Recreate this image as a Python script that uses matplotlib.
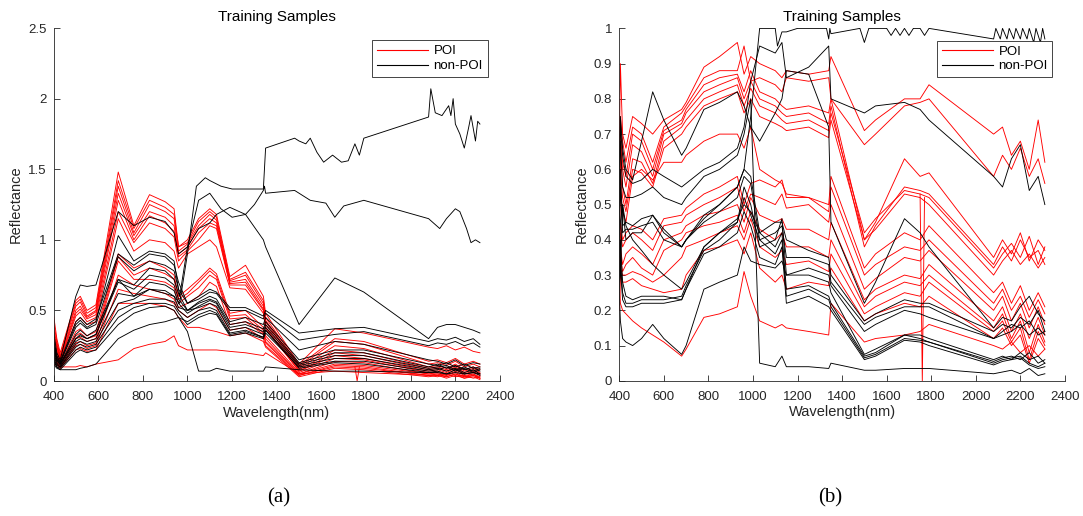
import matplotlib
matplotlib.use('Agg')
from matplotlib import pyplot as plt
from matplotlib.lines import Line2D
from matplotlib.ticker import FormatStrFormatter, MultipleLocator

plt.rcParams['font.family'] = ['Liberation Sans', 'DejaVu Sans']

# ---------------- panel (a) data ----------------
wl_a = [400, 415, 430, 500, 520, 550, 590, 690, 760, 830, 900, 940, 960, 1000, 1050, 1100, 1130,
        1190, 1260, 1340, 1350, 1500, 1660, 1790, 2080, 2120, 2160, 2200, 2240, 2280, 2310]

poi_a = [
    [0.47, 0.30, 0.20, 0.57, 0.60, 0.50, 0.54, 1.48, 1.10, 1.32, 1.27, 1.22, 0.95, 1.00, 1.15, 1.22, 1.18, 0.74, 0.82, 0.60, 0.48, 0.12, 0.37, 0.34, 0.24, 0.23, 0.25, 0.22, 0.24, 0.21, 0.20],
    [0.42, 0.28, 0.18, 0.55, 0.58, 0.48, 0.52, 1.42, 1.08, 1.28, 1.23, 1.18, 0.95, 0.98, 1.13, 1.20, 1.16, 0.72, 0.77, 0.57, 0.45, 0.11, 0.30, 0.28, 0.14, 0.15, 0.13, 0.16, 0.12, 0.14, 0.12],
    [0.38, 0.26, 0.17, 0.53, 0.56, 0.46, 0.50, 1.38, 1.05, 1.25, 1.20, 1.15, 0.92, 0.97, 1.10, 1.18, 1.14, 0.71, 0.75, 0.55, 0.43, 0.10, 0.28, 0.26, 0.12, 0.13, 0.11, 0.14, 0.10, 0.12, 0.10],
    [0.35, 0.25, 0.16, 0.50, 0.53, 0.45, 0.49, 1.33, 1.03, 1.20, 1.16, 1.10, 0.90, 0.95, 1.08, 1.15, 1.12, 0.70, 0.72, 0.53, 0.42, 0.09, 0.25, 0.23, 0.10, 0.11, 0.09, 0.12, 0.08, 0.10, 0.08],
    [0.32, 0.24, 0.15, 0.48, 0.51, 0.44, 0.47, 1.28, 1.00, 1.17, 1.12, 1.06, 0.88, 0.93, 1.05, 1.12, 1.10, 0.69, 0.70, 0.51, 0.40, 0.08, 0.22, 0.20, 0.09, 0.10, 0.08, 0.11, 0.07, 0.09, 0.06],
    [0.30, 0.22, 0.14, 0.46, 0.49, 0.42, 0.45, 1.20, 0.98, 1.12, 1.08, 1.02, 0.85, 0.92, 1.00, 1.10, 1.08, 0.68, 0.68, 0.50, 0.38, 0.07, 0.20, 0.18, 0.08, 0.09, 0.07, 0.10, 0.06, 0.08, 0.05],
    [0.28, 0.20, 0.13, 0.42, 0.45, 0.40, 0.42, 1.15, 0.92, 1.00, 0.98, 0.92, 0.80, 0.90, 0.95, 1.00, 0.95, 0.66, 0.65, 0.48, 0.37, 0.07, 0.18, 0.16, 0.07, 0.08, 0.06, 0.09, 0.05, 0.07, 0.04],
    [0.25, 0.18, 0.12, 0.35, 0.37, 0.32, 0.35, 0.90, 0.80, 0.85, 0.80, 0.75, 0.60, 0.65, 0.72, 0.80, 0.76, 0.48, 0.50, 0.38, 0.32, 0.06, 0.16, 0.15, 0.06, 0.07, 0.05, 0.08, 0.05, 0.06, 0.05],
    [0.22, 0.17, 0.11, 0.32, 0.34, 0.30, 0.32, 0.88, 0.75, 0.80, 0.76, 0.72, 0.58, 0.62, 0.70, 0.78, 0.74, 0.46, 0.47, 0.36, 0.30, 0.05, 0.14, 0.13, 0.05, 0.06, 0.04, 0.07, 0.04, 0.05, 0.03],
    [0.20, 0.16, 0.10, 0.30, 0.31, 0.28, 0.30, 0.85, 0.72, 0.72, 0.70, 0.66, 0.55, 0.60, 0.66, 0.75, 0.72, 0.44, 0.45, 0.34, 0.28, 0.05, 0.12, 0.11, 0.05, 0.05, 0.04, 0.06, 0.03, 0.05, 0.02],
    [0.18, 0.14, 0.10, 0.27, 0.28, 0.25, 0.27, 0.75, 0.68, 0.65, 0.62, 0.58, 0.52, 0.55, 0.60, 0.70, 0.67, 0.40, 0.42, 0.33, 0.27, 0.04, 0.11, 0.10, 0.04, 0.05, 0.03, 0.05, 0.03, 0.04, 0.02],
    [0.16, 0.13, 0.09, 0.25, 0.26, 0.23, 0.25, 0.65, 0.62, 0.60, 0.58, 0.55, 0.50, 0.45, 0.50, 0.55, 0.52, 0.36, 0.38, 0.30, 0.25, 0.04, 0.10, 0.09, 0.04, 0.04, 0.03, 0.05, 0.02, 0.04, 0.02],
    [0.14, 0.12, 0.09, 0.22, 0.23, 0.21, 0.22, 0.55, 0.55, 0.55, 0.53, 0.50, 0.45, 0.38, 0.38, 0.36, 0.35, 0.32, 0.34, 0.28, 0.24, 0.03, 0.09, 0.08, 0.03, 0.04, 0.02, 0.04, 0.02, 0.03, 0.01],
    [0.12, 0.11, 0.10, 0.10, 0.11, 0.10, 0.12, 0.15, 0.23, 0.26, 0.28, 0.32, 0.25, 0.22, 0.22, 0.22, 0.22, 0.21, 0.20, 0.18, 0.20, 0.05, 0.07, 0.06, 0.04, 0.03, 0.05, 0.03, 0.04, 0.02, 0.03],
]

non_a = [
    [0.35, 0.20, 0.15, 0.60, 0.68, 0.67, 0.68, 1.20, 1.10, 1.16, 1.13, 1.05, 0.90, 0.95, 1.08, 1.12, 1.18, 1.23, 1.18, 1.00, 0.95, 0.40, 0.73, 0.63, 0.30, 0.38, 0.40, 0.40, 0.38, 0.36, 0.34],
    [0.15, 0.10, 0.08, 0.08, 0.09, 0.10, 0.12, 0.30, 0.36, 0.40, 0.42, 0.44, 0.45, 0.35, 0.07, 0.07, 0.09, 0.07, 0.07, 0.07, 0.10, 0.08, 0.07, 0.07, 0.06, 0.06, 0.05, 0.06, 0.05, 0.06, 0.05],
    [0.28, 0.17, 0.14, 0.42, 0.45, 0.40, 0.44, 0.90, 0.82, 0.90, 0.88, 0.82, 0.70, 0.55, 0.60, 0.65, 0.63, 0.52, 0.52, 0.46, 0.50, 0.34, 0.37, 0.38, 0.28, 0.30, 0.29, 0.31, 0.28, 0.30, 0.26],
    [0.26, 0.16, 0.13, 0.38, 0.41, 0.37, 0.40, 0.88, 0.78, 0.85, 0.82, 0.78, 0.65, 0.55, 0.58, 0.63, 0.62, 0.50, 0.50, 0.44, 0.48, 0.29, 0.33, 0.35, 0.25, 0.27, 0.26, 0.28, 0.25, 0.27, 0.24],
    [0.24, 0.15, 0.12, 0.33, 0.36, 0.32, 0.36, 0.72, 0.68, 0.80, 0.78, 0.72, 0.62, 0.50, 0.56, 0.60, 0.58, 0.42, 0.45, 0.40, 0.45, 0.22, 0.28, 0.26, 0.15, 0.14, 0.12, 0.15, 0.11, 0.13, 0.12],
    [0.22, 0.14, 0.12, 0.30, 0.32, 0.30, 0.33, 0.70, 0.65, 0.75, 0.73, 0.68, 0.58, 0.50, 0.55, 0.58, 0.56, 0.40, 0.42, 0.37, 0.42, 0.15, 0.22, 0.22, 0.12, 0.11, 0.13, 0.10, 0.12, 0.09, 0.10],
    [0.20, 0.13, 0.11, 0.28, 0.30, 0.28, 0.30, 0.62, 0.60, 0.70, 0.68, 0.64, 0.55, 0.48, 0.53, 0.57, 0.55, 0.38, 0.40, 0.35, 0.40, 0.13, 0.20, 0.20, 0.10, 0.12, 0.09, 0.11, 0.08, 0.10, 0.07],
    [0.18, 0.12, 0.10, 0.26, 0.28, 0.26, 0.28, 0.55, 0.58, 0.65, 0.64, 0.60, 0.52, 0.50, 0.52, 0.55, 0.53, 0.36, 0.38, 0.33, 0.38, 0.12, 0.18, 0.18, 0.09, 0.10, 0.11, 0.08, 0.10, 0.07, 0.09],
    [0.16, 0.11, 0.10, 0.24, 0.26, 0.24, 0.26, 0.50, 0.55, 0.58, 0.58, 0.56, 0.50, 0.45, 0.50, 0.52, 0.50, 0.34, 0.36, 0.31, 0.36, 0.11, 0.16, 0.16, 0.08, 0.09, 0.07, 0.09, 0.06, 0.08, 0.05],
    [0.14, 0.10, 0.09, 0.22, 0.24, 0.22, 0.24, 0.45, 0.52, 0.55, 0.55, 0.53, 0.48, 0.40, 0.45, 0.48, 0.47, 0.32, 0.34, 0.30, 0.34, 0.10, 0.14, 0.14, 0.07, 0.08, 0.10, 0.07, 0.09, 0.06, 0.08],
    [0.12, 0.09, 0.08, 0.20, 0.22, 0.20, 0.22, 0.40, 0.48, 0.52, 0.53, 0.50, 0.45, 0.42, 0.47, 0.50, 0.48, 0.33, 0.35, 0.31, 0.36, 0.09, 0.13, 0.12, 0.06, 0.07, 0.05, 0.08, 0.05, 0.06, 0.04],
]

# two bright non-POI spectra of panel (a) with their own sampling
hi1_wl = [400, 415, 430, 500, 520, 550, 590, 690, 760, 830, 900, 940, 965, 1000, 1040, 1080, 1100, 1150,
          1200, 1340, 1350, 1480, 1500, 1530, 1550, 1580, 1610, 1650, 1690, 1720, 1750, 1770, 1790,
          2080, 2090, 2110, 2140, 2170, 2180, 2190, 2200, 2220, 2240, 2260, 2270, 2290, 2300, 2310]
hi1_r = [0.25, 0.15, 0.12, 0.30, 0.33, 0.30, 0.33, 0.72, 0.60, 0.65, 0.62, 0.60, 0.55, 0.90, 1.38, 1.44, 1.42, 1.38,
         1.36, 1.36, 1.65, 1.72, 1.70, 1.68, 1.72, 1.62, 1.55, 1.60, 1.55, 1.56, 1.68, 1.60, 1.72,
         1.87, 2.07, 1.90, 1.88, 1.95, 1.88, 2.00, 1.82, 1.75, 1.65, 1.80, 1.88, 1.70, 1.84, 1.82]
hi2_wl = [400, 415, 430, 500, 520, 550, 590, 690, 760, 830, 900, 940, 965, 1000, 1050, 1100, 1150, 1200,
          1260, 1300, 1340, 1345, 1350, 1480, 1550, 1620, 1660, 1700, 1790, 2080, 2130, 2160, 2200,
          2220, 2250, 2270, 2290, 2310]
hi2_r = [0.30, 0.18, 0.13, 0.40, 0.43, 0.38, 0.42, 1.03, 0.85, 0.92, 0.90, 0.85, 0.60, 0.95, 1.28, 1.33, 1.22, 1.16,
         1.18, 1.25, 1.35, 1.38, 1.33, 1.35, 1.28, 1.26, 1.16, 1.24, 1.28, 1.15, 1.08, 1.15, 1.22,
         1.20, 1.08, 0.98, 1.00, 0.98]

spike_a_wl = [1750, 1760, 1770]
spike_a_r = [0.10, 0.0, 0.10]

# ---------------- panel (b) data ----------------
wl_b = [400, 405, 415, 430, 460, 500, 550, 600, 680, 700, 780, 850, 930, 960, 990, 1030, 1100, 1130,
        1150, 1250, 1340, 1350, 1500, 1550, 1680, 1750, 1790, 2080, 2120, 2160, 2200, 2240, 2280, 2310]

poi_b = [
    [0.62, 0.90, 0.70, 0.66, 0.75, 0.73, 0.70, 0.74, 0.77, 0.79, 0.89, 0.92, 0.96, 0.87, 0.92, 0.90, 0.88, 0.86, 0.88, 0.87, 0.88, 0.92, 0.71, 0.74, 0.80, 0.80, 0.84, 0.70, 0.72, 0.64, 0.68, 0.60, 0.74, 0.62],
    [0.55, 0.75, 0.68, 0.62, 0.72, 0.70, 0.62, 0.72, 0.76, 0.78, 0.86, 0.88, 0.88, 0.95, 0.85, 0.86, 0.84, 0.82, 0.86, 0.85, 0.86, 0.80, 0.67, 0.70, 0.78, 0.79, 0.80, 0.58, 0.64, 0.60, 0.66, 0.58, 0.63, 0.56],
    [0.50, 0.70, 0.62, 0.58, 0.70, 0.68, 0.60, 0.71, 0.74, 0.77, 0.84, 0.86, 0.87, 0.82, 0.88, 0.82, 0.80, 0.78, 0.77, 0.78, 0.76, 0.80, 0.40, 0.45, 0.63, 0.58, 0.59, 0.35, 0.40, 0.36, 0.42, 0.34, 0.40, 0.37],
    [0.45, 0.68, 0.60, 0.55, 0.67, 0.65, 0.58, 0.70, 0.73, 0.76, 0.82, 0.84, 0.86, 0.80, 0.85, 0.80, 0.78, 0.76, 0.75, 0.76, 0.73, 0.78, 0.38, 0.44, 0.55, 0.54, 0.53, 0.33, 0.38, 0.34, 0.40, 0.35, 0.37, 0.33],
    [0.42, 0.65, 0.55, 0.50, 0.63, 0.62, 0.56, 0.68, 0.72, 0.74, 0.80, 0.82, 0.84, 0.78, 0.83, 0.78, 0.76, 0.74, 0.73, 0.74, 0.71, 0.76, 0.42, 0.46, 0.54, 0.53, 0.52, 0.32, 0.36, 0.39, 0.35, 0.41, 0.33, 0.38],
    [0.40, 0.60, 0.52, 0.48, 0.60, 0.59, 0.55, 0.66, 0.70, 0.72, 0.78, 0.80, 0.82, 0.76, 0.80, 0.75, 0.73, 0.72, 0.71, 0.72, 0.69, 0.74, 0.40, 0.43, 0.53, 0.52, 0.50, 0.30, 0.34, 0.37, 0.33, 0.36, 0.32, 0.35],
    [0.35, 0.55, 0.48, 0.45, 0.58, 0.60, 0.57, 0.62, 0.62, 0.64, 0.68, 0.70, 0.70, 0.66, 0.72, 0.60, 0.57, 0.56, 0.53, 0.52, 0.50, 0.58, 0.32, 0.36, 0.42, 0.40, 0.44, 0.25, 0.28, 0.22, 0.27, 0.20, 0.25, 0.21],
    [0.30, 0.45, 0.40, 0.42, 0.44, 0.43, 0.40, 0.46, 0.47, 0.49, 0.53, 0.55, 0.58, 0.50, 0.56, 0.57, 0.55, 0.57, 0.52, 0.52, 0.48, 0.55, 0.30, 0.33, 0.38, 0.37, 0.40, 0.22, 0.26, 0.20, 0.24, 0.18, 0.23, 0.19],
    [0.28, 0.42, 0.38, 0.40, 0.42, 0.40, 0.37, 0.44, 0.45, 0.47, 0.50, 0.52, 0.55, 0.48, 0.53, 0.52, 0.50, 0.53, 0.49, 0.50, 0.45, 0.50, 0.26, 0.29, 0.35, 0.34, 0.37, 0.20, 0.24, 0.17, 0.22, 0.15, 0.21, 0.16],
    [0.26, 0.38, 0.33, 0.36, 0.38, 0.36, 0.33, 0.40, 0.42, 0.44, 0.47, 0.48, 0.50, 0.45, 0.52, 0.47, 0.45, 0.46, 0.43, 0.43, 0.40, 0.45, 0.23, 0.26, 0.30, 0.29, 0.33, 0.17, 0.21, 0.14, 0.19, 0.12, 0.18, 0.13],
    [0.24, 0.35, 0.31, 0.33, 0.35, 0.32, 0.30, 0.37, 0.40, 0.42, 0.44, 0.45, 0.47, 0.42, 0.48, 0.43, 0.40, 0.42, 0.38, 0.38, 0.35, 0.40, 0.21, 0.24, 0.28, 0.27, 0.30, 0.15, 0.19, 0.12, 0.17, 0.08, 0.16, 0.11],
    [0.22, 0.32, 0.30, 0.30, 0.31, 0.30, 0.28, 0.30, 0.35, 0.38, 0.40, 0.42, 0.44, 0.40, 0.46, 0.38, 0.35, 0.37, 0.33, 0.34, 0.31, 0.36, 0.19, 0.21, 0.25, 0.24, 0.28, 0.14, 0.17, 0.11, 0.15, 0.06, 0.14, 0.10],
    [0.20, 0.30, 0.28, 0.28, 0.29, 0.27, 0.26, 0.25, 0.26, 0.30, 0.37, 0.38, 0.40, 0.36, 0.42, 0.32, 0.28, 0.30, 0.26, 0.28, 0.27, 0.32, 0.17, 0.19, 0.22, 0.21, 0.24, 0.12, 0.15, 0.10, 0.13, 0.05, 0.12, 0.09],
    [0.30, 0.22, 0.20, 0.19, 0.17, 0.15, 0.13, 0.11, 0.07, 0.09, 0.18, 0.19, 0.21, 0.31, 0.24, 0.17, 0.15, 0.16, 0.15, 0.14, 0.13, 0.22, 0.11, 0.12, 0.13, 0.14, 0.16, 0.10, 0.09, 0.11, 0.08, 0.10, 0.07, 0.09],
]

non_b = [
    [0.60, 0.72, 0.64, 0.58, 0.56, 0.57, 0.60, 0.58, 0.55, 0.56, 0.60, 0.62, 0.66, 0.72, 0.85, 0.95, 0.93, 0.96, 0.86, 0.89, 0.95, 0.80, 0.76, 0.78, 0.79, 0.77, 0.74, 0.58, 0.55, 0.63, 0.67, 0.54, 0.58, 0.50],
    [0.55, 0.75, 0.66, 0.60, 0.57, 0.68, 0.82, 0.74, 0.64, 0.66, 0.77, 0.79, 0.82, 0.78, 0.72, 0.68, 0.76, 0.80, 0.88, 0.87, 0.72, 0.45, 0.22, 0.28, 0.46, 0.42, 0.38, 0.15, 0.18, 0.17, 0.21, 0.24, 0.19, 0.17],
    [0.50, 0.68, 0.55, 0.52, 0.52, 0.53, 0.55, 0.52, 0.50, 0.52, 0.58, 0.60, 0.64, 0.70, 0.80, 0.05, 0.04, 0.07, 0.04, 0.04, 0.035, 0.05, 0.03, 0.03, 0.035, 0.035, 0.035, 0.02, 0.025, 0.03, 0.02, 0.035, 0.015, 0.02],
    [0.45, 0.60, 0.44, 0.45, 0.44, 0.46, 0.47, 0.42, 0.38, 0.40, 0.46, 0.50, 0.55, 0.60, 0.58, 0.42, 0.45, 0.45, 0.40, 0.37, 0.35, 0.30, 0.17, 0.19, 0.23, 0.22, 0.22, 0.14, 0.16, 0.15, 0.18, 0.16, 0.20, 0.14],
    [0.40, 0.55, 0.42, 0.43, 0.43, 0.44, 0.45, 0.40, 0.38, 0.40, 0.45, 0.48, 0.52, 0.58, 0.56, 0.40, 0.42, 0.44, 0.35, 0.35, 0.33, 0.28, 0.16, 0.18, 0.21, 0.21, 0.21, 0.12, 0.13, 0.14, 0.16, 0.13, 0.15, 0.13],
    [0.35, 0.45, 0.50, 0.44, 0.40, 0.37, 0.33, 0.30, 0.26, 0.28, 0.38, 0.42, 0.45, 0.55, 0.50, 0.38, 0.40, 0.46, 0.30, 0.30, 0.28, 0.25, 0.075, 0.09, 0.13, 0.13, 0.12, 0.06, 0.07, 0.06, 0.08, 0.06, 0.07, 0.05],
    [0.30, 0.40, 0.28, 0.24, 0.23, 0.24, 0.24, 0.24, 0.23, 0.26, 0.38, 0.42, 0.46, 0.50, 0.48, 0.42, 0.38, 0.42, 0.26, 0.27, 0.24, 0.22, 0.07, 0.08, 0.13, 0.12, 0.11, 0.055, 0.065, 0.07, 0.06, 0.08, 0.05, 0.06],
    [0.28, 0.35, 0.25, 0.22, 0.22, 0.23, 0.23, 0.23, 0.24, 0.27, 0.37, 0.40, 0.45, 0.52, 0.47, 0.40, 0.36, 0.40, 0.24, 0.26, 0.23, 0.21, 0.065, 0.075, 0.12, 0.115, 0.11, 0.05, 0.06, 0.065, 0.07, 0.05, 0.04, 0.05],
    [0.25, 0.32, 0.23, 0.21, 0.21, 0.22, 0.22, 0.22, 0.23, 0.26, 0.36, 0.38, 0.42, 0.48, 0.44, 0.35, 0.33, 0.38, 0.22, 0.24, 0.21, 0.20, 0.06, 0.07, 0.115, 0.11, 0.10, 0.045, 0.055, 0.06, 0.065, 0.045, 0.035, 0.04],
    [0.25, 0.17, 0.12, 0.11, 0.10, 0.12, 0.16, 0.12, 0.075, 0.10, 0.26, 0.28, 0.30, 0.38, 0.34, 0.33, 0.32, 0.34, 0.30, 0.32, 0.30, 0.27, 0.14, 0.16, 0.20, 0.19, 0.18, 0.12, 0.14, 0.16, 0.15, 0.17, 0.13, 0.14],
]

# saturated non-POI spectrum of panel (b)
sat_wl = [400, 405, 415, 430, 460, 500, 550, 600, 680, 700, 780, 850, 930, 960, 990, 1030, 1100, 1110,
          1130, 1150, 1200, 1330, 1340, 1345, 1350, 1480, 1500, 1520, 1560, 1600, 1620, 1640, 1660,
          1680, 1700, 1720, 1750, 1770, 1790, 2080, 2090, 2110, 2120, 2140, 2150, 2170, 2180, 2200,
          2210, 2230, 2240, 2260, 2270, 2290, 2300, 2310]
sat_r = [0.45, 0.30, 0.50, 0.40, 0.42, 0.42, 0.47, 0.43, 0.38, 0.40, 0.47, 0.50, 0.55, 0.60, 0.75, 1.00, 1.00, 0.95,
         0.99, 0.99, 1.00, 1.00, 0.97, 1.00, 0.985, 1.00, 0.96, 1.00, 1.00, 1.00, 0.98, 1.00, 0.98,
         1.00, 0.98, 1.00, 1.00, 0.98, 1.00, 0.97, 1.00, 0.97, 1.00, 0.97, 1.00, 0.97, 1.00, 0.97,
         1.00, 0.97, 1.00, 0.96, 1.00, 0.96, 1.00, 0.97]

spike_b_wl = [1750, 1760, 1770]
spike_b_r = [0.53, 0.0, 0.52]

# ---------------- drawing ----------------
fig = plt.figure(figsize=(10.83, 5.16), dpi=100)
ax1 = fig.add_axes([0.0494, 0.2616, 0.4123, 0.684])
ax2 = fig.add_axes([0.5718, 0.2620, 0.4115, 0.683])

lw = 0.65
txt = '#262626'


def draw(ax, wl, red, black, red_extra, black_extra):
    for r in red:
        ax.plot(wl, r, color='red', lw=lw)
    for wx, rx in red_extra:
        ax.plot(wx, rx, color='red', lw=lw)
    for b in black:
        ax.plot(wl, b, color='black', lw=lw)
    for wx, bx in black_extra:
        ax.plot(wx, bx, color='black', lw=lw)


draw(ax1, wl_a, poi_a, non_a, [(spike_a_wl, spike_a_r)], [(hi1_wl, hi1_r), (hi2_wl, hi2_r)])
draw(ax2, wl_b, poi_b, non_b, [(spike_b_wl, spike_b_r)], [(sat_wl, sat_r)])

for ax, top, step in [(ax1, 2.5, 0.5), (ax2, 1.0, 0.1)]:
    ax.set_xlim(400, 2400)
    ax.set_ylim(0, top)
    ax.xaxis.set_major_locator(MultipleLocator(200))
    ax.yaxis.set_major_locator(MultipleLocator(step))
    ax.yaxis.set_major_formatter(FormatStrFormatter('%g'))
    ax.spines['top'].set_visible(False)
    ax.spines['right'].set_visible(False)
    for s in ['left', 'bottom']:
        ax.spines[s].set_color(txt)
        ax.spines[s].set_linewidth(0.6)
    ax.tick_params(direction='in', length=4, width=0.6, colors=txt, labelsize=9.5)
    ax.tick_params(axis='x', pad=7)
    ax.tick_params(axis='y', pad=5)
    ax.set_title('Training Samples', fontsize=11, color='black', pad=5)
    ax.set_xlabel('Wavelength(nm)', fontsize=10.5, color=txt, labelpad=2)
    ax.set_ylabel('Reflectance', fontsize=10.5, color=txt, labelpad=4)
    handles = [Line2D([], [], color='red', lw=0.8), Line2D([], [], color='black', lw=0.8)]
    leg = ax.legend(handles, ['POI', 'non-POI'], loc='upper right', bbox_to_anchor=(0.972, 0.965),
                    borderaxespad=0, fontsize=9.5, frameon=True, fancybox=False, framealpha=1,
                    edgecolor=txt, handlelength=3.9, borderpad=0.35, labelspacing=0.2,
                    handletextpad=0.4)
    leg.get_frame().set_linewidth(0.6)

fig.text(0.257, 0.027, '(a)', fontsize=15, family=['Liberation Serif', 'DejaVu Serif'], ha='center')
fig.text(0.767, 0.027, '(b)', fontsize=15, family=['Liberation Serif', 'DejaVu Serif'], ha='center')

plt.savefig('out.png', dpi=100)
